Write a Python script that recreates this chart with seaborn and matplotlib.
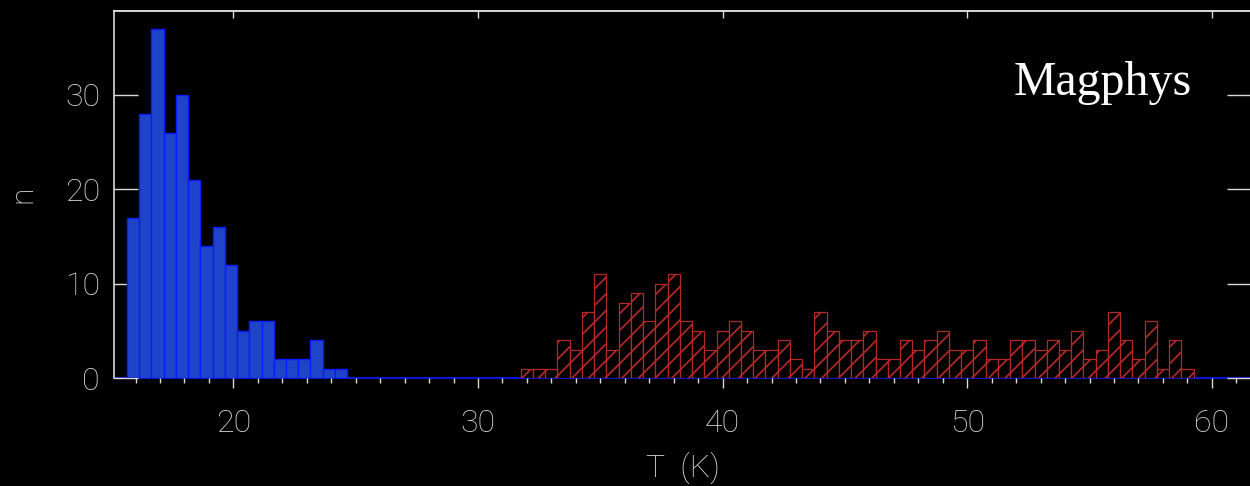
import numpy as np
import pandas as pd
import matplotlib
matplotlib.use("Agg")
import matplotlib.pyplot as plt
import seaborn as sns
from matplotlib.ticker import MultipleLocator

# histogram counts, bins are 0.5 K wide
bin_width = 0.5
blue_start = 15.65
blue_counts = [17, 28, 37, 26, 30, 21, 14, 16, 12, 5, 6, 6, 2, 2, 2, 4, 1, 1] + [0] * 74
red_start = 31.75
red_counts = [1, 1, 1, 4, 3, 7, 11, 3, 8, 9, 6, 10, 11, 6, 5, 3, 5, 6, 5, 3,
              3, 4, 2, 1, 7, 5, 4, 4, 5, 2, 2, 4, 3, 4, 5, 3, 3, 4, 2, 2,
              4, 4, 3, 4, 3, 5, 2, 3, 7, 4, 2, 6, 1, 4, 1]

x_ticks = [20, 30, 40, 50, 60]
y_ticks = [0, 10, 20, 30]

blue_edges = blue_start + bin_width * np.arange(len(blue_counts) + 1)
red_edges = red_start + bin_width * np.arange(len(red_counts) + 1)
blue_df = pd.DataFrame({"T": blue_edges[:-1] + bin_width / 2, "n": blue_counts})
red_df = pd.DataFrame({"T": red_edges[:-1] + bin_width / 2, "n": red_counts})

sns.set_style("ticks", rc={"axes.facecolor": "black", "figure.facecolor": "black"})
plt.rcParams["font.family"] = ["Roboto", "DejaVu Sans"]
plt.rcParams["hatch.linewidth"] = 1.25

fg = "#dadada"
red = "#b42828"
blue_edge = "#0a1cff"
fig = plt.figure(figsize=(12.5, 4.86), dpi=100, facecolor="black")
ax = fig.add_axes([114 / 1250, 108 / 486, (1251 - 114) / 1250, (378 - 11) / 486])
ax.set_facecolor("black")

sns.histplot(data=blue_df, x="T", weights="n", bins=list(blue_edges), ax=ax,
             color="#1f44c8", edgecolor=blue_edge, linewidth=1.0, alpha=1)
n_blue = len(ax.patches)
sns.histplot(data=red_df, x="T", weights="n", bins=list(red_edges), ax=ax,
             color="black", edgecolor=red, linewidth=0.9, alpha=1)
for p in ax.patches[n_blue:]:
    p.set_facecolor("black")
    p.set_edgecolor(red)
    p.set_hatch("//")

ax.set_xlim(15.12, 61.6)
ax.set_ylim(0, 38.9)
ax.set_xticks(x_ticks)
ax.set_yticks(y_ticks)
ax.xaxis.set_minor_locator(MultipleLocator(1))

for s in ax.spines.values():
    s.set_color(fg)
    s.set_linewidth(1.2)
# the empty bins of the blue histogram run along the zero line
ax.spines["bottom"].set_color(blue_edge)
ax.spines["bottom"].set_zorder(0)

ax.tick_params(axis="x", which="major", direction="out", length=7, width=1,
               color=fg, labelcolor=fg, labelsize=23, pad=15, top=False)
ax.tick_params(axis="x", which="minor", direction="out", length=3.6, width=1,
               color=fg, top=False)
ax.tick_params(axis="y", which="major", direction="in", length=17, width=1,
               color=fg, labelcolor=fg, labelsize=23, pad=10, left=True, right=True)
for lab in ax.get_xticklabels() + ax.get_yticklabels():
    lab.set_fontweight("light")

top = ax.secondary_xaxis("top")
top.set_xticks(x_ticks)
top.tick_params(direction="in", length=5, width=1, color=fg, labeltop=False)
top.spines["top"].set_color(fg)
top.spines["top"].set_linewidth(1.2)

ax.set_xlabel("T  (K)", color=fg, fontsize=23, fontweight="light", labelpad=10)
ax.set_ylabel("n", color=fg, fontsize=23, fontweight="light", labelpad=20)

fig.text(1192 / 1250, (486 - 95) / 486, "Magphys", color="white",
         fontsize=34.5, family="Liberation Serif", ha="right", va="baseline")

fig.savefig("out.png", dpi=100, facecolor="black")
